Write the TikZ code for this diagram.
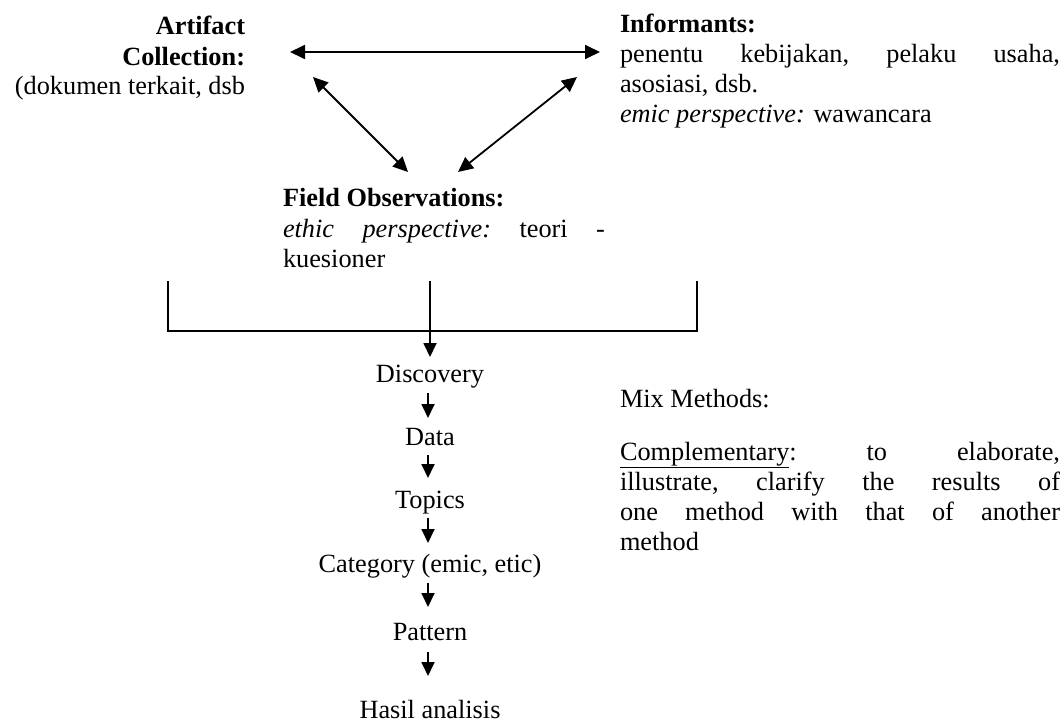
\documentclass[tikz,border=0pt]{standalone}
\usepackage{fontspec}
\setmainfont{Liberation Serif}
\usetikzlibrary{arrows.meta}
\begin{document}
\begin{tikzpicture}[x=1pt,y=-1pt,
  every node/.style={inner sep=0pt, outer sep=0pt, font=\fontsize{26.3}{30}\selectfont},
  lft/.style={anchor=base west},
  rgt/.style={anchor=base east},
  mid/.style={anchor=base},
  conn/.style={line width=1.8pt},
  arr/.style={conn, -{Triangle[length=14pt,width=13pt]}},
  darr/.style={conn, {Triangle[length=15pt,width=14pt]}-{Triangle[length=15pt,width=14pt]}}]
\useasboundingbox (0,0) rectangle (1064,722);

% Artifact collection (right aligned)
\node[rgt] (art1) at (245,35) {\textbf{Artifact}};
\node[rgt] (art2) at (245,66) {\textbf{Collection:}};
\node[rgt] (art3) at (245,95) {(dokumen terkait, dsb};

% Informants
\node[lft] (inf1) at (620,33) {\textbf{Informants:}};
\node[lft] (inf2) at (620,63) {\hbox to 440pt{penentu\hfill kebijakan,\hfill pelaku\hfill usaha,}};
\node[lft] (inf3) at (620,93) {asosiasi, dsb.};
\node[lft] (inf4) at (620,123) {\textit{emic perspective:} wawancara};

% Field observations
\node[lft] (fo1) at (283,206) {\textbf{Field Observations:}};
\node[lft] (fo2) at (283,237) {\hbox to 322pt{\textit{ethic}\hfill\textit{perspective:}\hfill teori\hfill -}};
\node[lft] (fo3) at (283,267) {kuesioner};

% Triangle of data sources
\coordinate (tl) at (290,52);
\coordinate (tr) at (600,52);
\coordinate (dl1) at (313,77);
\coordinate (dl2) at (408,172);
\coordinate (dr1) at (577,77);
\coordinate (dr2) at (458,172);
\draw[darr] (tl) -- (tr);
\draw[darr] (dl1) -- (dl2);
\draw[darr] (dr2) -- (dr1);

% Bracket merging the three sources
\coordinate (bl) at (168,281);
\coordinate (br) at (697,281);
\coordinate (bc) at (430,281);
\draw[conn] (bl) -- (168,331) -- (697,331) -- (br);

% Analysis steps
\node[mid] (disc) at (430,382) {Discovery};
\node[mid] (data) at (430,445) {Data};
\node[mid] (topi) at (430,508) {Topics};
\node[mid] (cate) at (430,572) {Category (emic, etic)};
\node[mid] (patt) at (430,640) {Pattern};
\node[mid] (hasi) at (430,718) {Hasil analisis};

\draw[arr] (bc) -- (430,357);
\draw[arr] (428,393) -- (428,418);
\draw[arr] (428,455) -- (428,478);
\draw[arr] (428,518) -- (428,543);
\draw[arr] (428,583) -- (428,607);
\draw[arr] (428,652) -- (428,676);

% Mix methods note
\node[lft] (mix) at (620,407) {Mix Methods:};
\node[lft] (cm1) at (620,460) {\hbox to 440pt{\underline{Complementary}:\hfill to\hfill elaborate,}};
\node[lft] (cm2) at (620,490) {\hbox to 440pt{illustrate,\hfill clarify\hfill the\hfill results\hfill of}};
\node[lft] (cm3) at (620,520) {\hbox to 440pt{one\hfill method\hfill with\hfill that\hfill of\hfill another}};
\node[lft] (cm4) at (620,550) {method};
\end{tikzpicture}
\end{document}
